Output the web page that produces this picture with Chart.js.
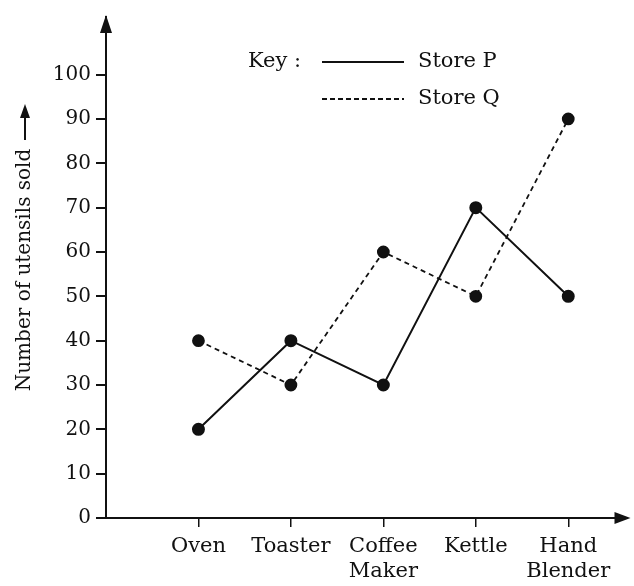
<!DOCTYPE html>
<html>
<head>
<meta charset="utf-8">
<script src="https://cdn.jsdelivr.net/npm/chart.js@4"></script>
<style>
  html, body { margin: 0; padding: 0; background: #fff; }
  #wrap { width: 634px; height: 586px; }
</style>
</head>
<body>
<div id="wrap"><canvas id="lineChart" width="634" height="586"></canvas></div>
<script>
const utensils = [["Oven"], ["Toaster"], ["Coffee", "Maker"], ["Kettle"], ["Hand", "Blender"]];
const storeP = [20, 40, 30, 70, 50];
const storeQ = [40, 30, 60, 50, 90];
const yTicks = [0, 10, 20, 30, 40, 50, 60, 70, 80, 90, 100];
const yTitle = 'Number of utensils sold';

const serif = "'DejaVu Serif', 'Liberation Serif', serif";

// axes arrows, y title and the key
const extras = {
    id: 'extras',
    afterDraw(chart) {
        const ctx = chart.ctx;
        const a = chart.chartArea;
        ctx.save();
        ctx.fillStyle = '#111';
        ctx.strokeStyle = '#111';
        // y arrow
        ctx.beginPath();
        ctx.moveTo(a.left, a.top - 2);
        ctx.lineTo(a.left - 6, a.top + 16);
        ctx.lineTo(a.left + 6, a.top + 16);
        ctx.closePath();
        ctx.fill();
        // x arrow
        ctx.beginPath();
        ctx.moveTo(a.right + 4, a.bottom);
        ctx.lineTo(a.right - 12, a.bottom - 6);
        ctx.lineTo(a.right - 12, a.bottom + 6);
        ctx.closePath();
        ctx.fill();

        // y title with arrow
        ctx.save();
        ctx.translate(25, 270);
        ctx.rotate(-Math.PI / 2);
        ctx.font = '20px ' + serif;
        ctx.textAlign = 'center';
        ctx.textBaseline = 'middle';
        ctx.fillText(yTitle, 0, 0);
        ctx.restore();
        ctx.lineWidth = 2;
        ctx.beginPath();
        ctx.moveTo(25, 140);
        ctx.lineTo(25, 116);
        ctx.stroke();
        ctx.beginPath();
        ctx.moveTo(25, 104);
        ctx.lineTo(20, 118);
        ctx.lineTo(30, 118);
        ctx.closePath();
        ctx.fill();

        // key
        ctx.font = '21px ' + serif;
        ctx.textBaseline = 'middle';
        ctx.fillText('Key :', 248, 62);
        ctx.fillText('Store P', 418, 62);
        ctx.fillText('Store Q', 418, 99);
        ctx.lineWidth = 2;
        ctx.beginPath();
        ctx.moveTo(322, 62);
        ctx.lineTo(404, 62);
        ctx.stroke();
        ctx.setLineDash([5, 3]);
        ctx.beginPath();
        ctx.moveTo(322, 99);
        ctx.lineTo(404, 99);
        ctx.stroke();
        ctx.restore();
    }
};

const toPoints = arr => arr.map((v, i) => ({ x: i, y: v }));

new Chart(document.getElementById('lineChart'), {
    type: 'line',
    data: {
        datasets: [{
            label: 'Store P',
            data: toPoints(storeP),
            borderColor: '#111',
            backgroundColor: '#111',
            borderWidth: 2,
            pointRadius: 5.5,
            fill: false,
            tension: 0
        }, {
            label: 'Store Q',
            data: toPoints(storeQ),
            borderColor: '#111',
            backgroundColor: '#111',
            borderWidth: 1.8,
            borderDash: [5, 4],
            pointRadius: 5.5,
            fill: false,
            tension: 0
        }]
    },
    options: {
        responsive: false,
        animation: false,
        layout: { padding: { top: 14, right: 4, left: 0, bottom: 0 } },
        plugins: { legend: { display: false }, tooltip: { enabled: false } },
        scales: {
            x: {
                type: 'linear',
                min: -1,
                max: 4.63,
                afterBuildTicks: s => { s.ticks = utensils.map((u, i) => ({ value: i })); },
                afterFit: s => { s.height = 68; },
                ticks: {
                    color: '#111',
                    font: { family: serif, size: 21, lineHeight: 1.2 },
                    padding: 7,
                    maxRotation: 0,
                    callback: (v) => utensils[v]
                },
                grid: { drawOnChartArea: false, drawTicks: true, tickLength: 9, color: '#111', lineWidth: 1.5 },
                border: { display: true, color: '#111', width: 2 }
            },
            y: {
                min: 0,
                max: 113,
                afterBuildTicks: s => { s.ticks = yTicks.map(v => ({ value: v })); },
                afterFit: s => { s.width = 106; },
                ticks: {
                    color: '#111',
                    font: { family: serif, size: 20 },
                    padding: 5
                },
                grid: { drawOnChartArea: false, drawTicks: true, tickLength: 10, color: '#111', lineWidth: 2 },
                border: { display: true, color: '#111', width: 2 }
            }
        }
    },
    plugins: [extras]
});
</script>
</body>
</html>
